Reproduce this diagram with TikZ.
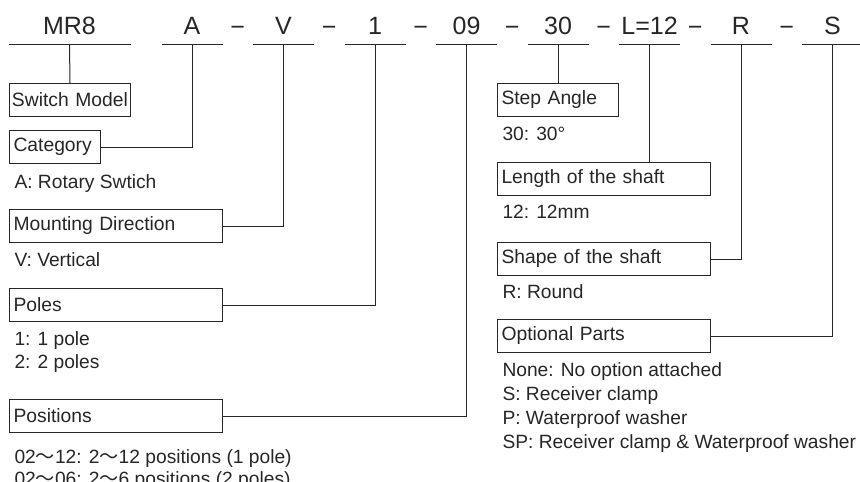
\documentclass[tikz,border=0pt]{standalone}
\usepackage{fontspec}
\setmainfont{Liberation Sans}
\newfontfamily\cjk{Noto Sans CJK JP}
\usetikzlibrary{positioning}
\newcommand{\wave}{{\cjk ～}}

\begin{document}
\begin{tikzpicture}[x=1pt, y=-1pt, line width=1pt, color=black!85,
  code/.style = {font=\fontsize{25}{30}\selectfont, anchor=south, minimum width=60pt, inner sep=0pt, text height=18pt, text depth=9pt},
  sep/.style = {font=\fontsize{25}{30}\selectfont, anchor=base, inner sep=0pt},
  box/.style = {draw, anchor=north west, minimum height=33pt, inner xsep=4pt, inner ysep=0pt, align=left, text width=205pt, font=\fontsize{19.3}{23}\selectfont},
  info/.style = {anchor=base west, inner sep=0pt, font=\fontsize{19.2}{24}\selectfont}]
		\useasboundingbox (0,0) rectangle (860,482);

		% model code
		\node[code, minimum width=121pt] (mr8) at (69.5,44) {MR8};
		\node[code] (a) at (192,44) {A};
		\node[code] (v) at (283.5,44) {V};
		\node[code] (one) at (375,44) {1};
		\node[code] (nine) at (466.5,44) {09};
		\node[code] (thirty) at (558,44) {30};
		\node[code] (len) at (649.5,44) {L=12};
		\node[code] (r) at (741,44) {R};
		\node[code] (s) at (832.5,44) {S};
		\foreach \x in {237.75,329.25,420.75,512.25,603.75,695.25,786.75}
			\node[sep] at (\x,35) {−};
		\foreach \n in {mr8,a,v,one,nine,thirty,len,r,s}
			\draw (\n.south west) -- (\n.south east);

		% left column
		\node[box, inner xsep=2.5pt, text width=116pt] (model) at (9,83) {\mbox{Switch Model}};
		\node[box, text width=83pt] (cat) at (9,130) {Category};
		\node[info] (catA) at (14,188) {A: Rotary Swtich};
		\node[box] (mount) at (9,209) {Mounting Direction};
		\node[info] (mountV) at (14,266) {V: Vertical};
		\node[box] (poles) at (9,288) {Poles};
		\node[info] (poles1) at (14,345) {1: 1 pole};
		\node[info] (poles2) at (14,368) {2: 2 poles};
		\node[box] (pos) at (9,399) {Positions};
		\node[info] (pos1) at (14,463) {02\wave12: 2\wave12 positions (1 pole)};
		\node[info] (pos2) at (14,485) {02\wave06: 2\wave6 positions (2 poles)};

		% right column
		\node[box, text width=113pt] (step) at (497,83) {Step Angle};
		\node[info] (step30) at (502,140) {30: 30°};
		\node[box] (length) at (497,162) {Length of the shaft};
		\node[info] (length12) at (502,218) {12: 12mm};
		\node[box] (shape) at (497,242) {Shape of the shaft};
		\node[info] (shapeR) at (502,298) {R: Round};
		\node[box] (opt) at (497,319) {Optional Parts};
		\node[info] (optN) at (502,376) {None: No option attached};
		\node[info] (optS) at (502,400) {S: Receiver clamp};
		\node[info] (optP) at (502,424) {P: Waterproof washer};
		\node[info] (optSP) at (502,448) {SP: Receiver clamp \& Waterproof washer};

		% connectors
		\draw (mr8.south) -- (model.north);
		\draw (cat.east) -| (a.south);
		\draw (mount.east) -| (v.south);
		\draw (poles.east) -| (one.south);
		\draw (pos.east) -| (nine.south);
		\draw (thirty.south) -- (thirty.south |- step.north);
		\draw (len.south) -- (len.south |- length.north);
		\draw (shape.east) -| (r.south);
		\draw (opt.east) -| (s.south);
	\end{tikzpicture}
\end{document}
